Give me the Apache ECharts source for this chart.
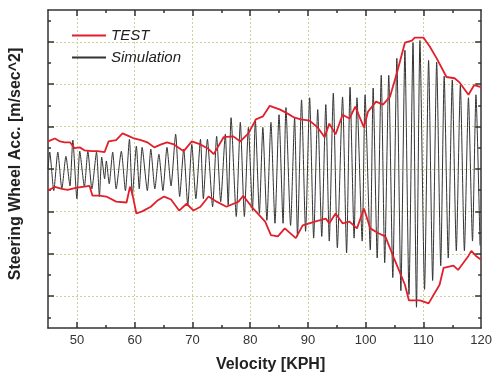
<!DOCTYPE html>
<html>
<head>
<meta charset="utf-8">
<script src="https://cdn.jsdelivr.net/npm/echarts@6/dist/echarts.min.js"></script>
<style>
  html, body { margin: 0; padding: 0; background: #fff; }
  #chart { width: 495px; height: 378px; }
</style>
</head>
<body>
<div id="chart"></div>
<script>
// velocity ticks
const xMajor = [50, 60, 70, 80, 90, 100, 110];
const xLabels = [50, 60, 70, 80, 90, 100, 110, 120];
const xMinor = [55, 65, 75, 85, 95, 105, 115];
// acceleration ticks (no labels on the original)
const yMajor = [-3, -2, -1, 0, 1, 2, 3];
const yMinor = [-3.5, -2.5, -1.5, -0.5, 0.5, 1.5, 2.5, 3.5];

// TEST envelope, upper side
const testUpperV = [45.0, 46.2, 47.1, 47.9, 48.8, 49.6, 50.5, 51.3, 52.6, 53.6, 54.8, 55.5, 56.8, 57.9, 59.1, 59.9,
  61.1, 62.2, 63.4, 64.6, 65.6, 66.8, 68.5, 69.9, 71.4, 72.8, 73.7, 75.4, 77.1, 78.3, 79.7, 81.0, 82.2, 83.4, 85.2,
  86.2, 87.7, 88.8, 90.3, 91.7, 92.9, 93.7, 94.8, 96.0, 97.2, 98.2, 99.7, 100.4, 101.8, 103.0, 104.2, 105.4, 106.8,
  108.0, 108.5, 110.0, 111.1, 112.3, 114.0, 115.4, 116.2, 117.8, 118.8, 120.0];
const testUpperA = [0.65, 0.72, 0.65, 0.63, 0.63, 0.49, 0.51, 0.44, 0.42, 0.42, 0.40, 0.65, 0.68, 0.84, 0.77, 0.72,
  0.68, 0.63, 0.51, 0.58, 0.63, 0.58, 0.42, 0.65, 0.58, 0.47, 0.35, 0.75, 0.77, 0.65, 0.84, 1.17, 1.24, 1.49, 1.40,
  1.33, 1.21, 1.17, 1.14, 0.98, 0.75, 1.07, 0.82, 1.28, 1.19, 1.47, 0.98, 1.35, 1.59, 1.52, 1.70, 2.26, 2.98,
  3.03, 3.10, 3.10, 2.89, 2.61, 2.17, 2.14, 2.05, 1.75, 1.98, 1.93];

// TEST envelope, lower side
const testLowerV = [45.0, 46.2, 47.4, 48.4, 50.0, 51.0, 52.2, 52.7, 53.9, 55.1, 56.8, 58.6, 59.2, 59.6, 60.3, 61.3,
  62.8, 63.9, 65.1, 66.3, 67.7, 69.0, 70.2, 71.4, 72.8, 74.2, 75.9, 78.0, 78.8, 80.5, 82.6, 83.6, 84.8, 86.0, 87.9,
  89.1, 91.2, 93.1, 93.7, 94.8, 96.0, 97.2, 98.5, 99.7, 100.8, 102.3, 103.4, 104.9, 106.8, 107.5, 109.4, 110.9,
  112.8, 113.5, 115.2, 116.0, 117.8, 118.3, 119.1, 120.0];
const testLowerA = [-0.51, -0.42, -0.47, -0.49, -0.44, -0.42, -0.40, -0.63, -0.63, -0.65, -0.77, -0.79, -0.42, -0.58, -1.05, -1.00,
  -0.89, -0.75, -0.65, -0.72, -0.98, -0.82, -0.98, -0.89, -0.65, -0.77, -0.89, -0.77, -0.63, -0.93, -1.24, -1.56, -1.59, -1.40, -1.63,
  -1.33, -1.24, -1.17, -1.28, -1.05, -1.28, -1.24, -1.40, -0.93, -1.40, -1.52, -1.59, -2.10, -2.73, -3.10, -3.10, -3.17,
  -2.73, -2.33, -2.28, -2.38, -2.05, -1.93, -2.05, -2.14];

// Simulation: peaks and troughs of the oscillation
const simV = [45.0, 45.3, 46.0, 46.7, 47.4, 48.1, 48.8, 49.3, 50.0, 50.5, 51.3, 51.9, 52.6, 53.4, 53.9, 54.3, 54.8,
  55.1, 55.6, 56.2, 56.8, 57.7, 58.4, 59.1, 59.6, 60.3, 60.8, 61.3, 62.2, 62.8, 63.5, 64.2, 64.9, 65.6, 66.3, 67.1,
  67.8, 68.5, 69.2, 69.9, 70.6, 71.4, 71.9, 72.6, 73.5, 74.2, 74.9, 75.7, 76.2, 76.7, 77.6, 78.3, 79.0, 79.7, 80.4,
  80.9, 81.6, 82.2, 82.9, 83.6, 84.3, 85.0, 85.7, 86.2, 87.0, 87.7, 88.2, 88.9, 89.6, 90.3, 91.0, 91.7, 92.4, 93.1,
  93.7, 94.4, 95.1, 96.0, 96.7, 97.3, 98.0, 98.5, 99.4, 99.9, 100.8, 101.3, 102.0, 102.7, 103.3, 104.0, 104.7, 105.4,
  106.1, 106.8, 107.5, 108.2, 108.8, 109.4, 110.2, 110.9, 111.6, 112.3, 113.0, 113.6, 114.3, 115.0, 115.7, 116.4,
  117.1, 117.8, 118.5, 119.1, 119.8];
const simA = [0.0, 0.40, -0.51, 0.40, -0.47, 0.30, -0.40, 0.68, -0.70, 0.42, -0.42, 0.42, -0.47, 0.40, -0.65, 0.28, -0.23,
  0.19, -0.35, 0.40, -0.47, 0.42, -0.51, 0.70, -0.63, 0.54, -0.47, 0.51, -0.51, 0.47, -0.47, 0.35, -0.51, 0.51, -0.40, 0.82,
  -0.65, 0.47, -0.86, 0.58, -0.70, 0.70, -0.70, 0.70, -0.89, 0.77, -0.77, 0.82, -0.86, 1.21, -1.12, 1.10, -1.12, 0.98, -0.98,
  1.17, -1.05, 0.98, -1.21, 1.10, -1.28, 1.28, -1.28, 1.45, -1.33, 1.21, -1.59, 1.63, -1.47, 1.68, -1.63, 1.40, -1.59, 1.52,
  -1.70, 1.79, -1.86, 1.70, -1.98, 1.93, -1.63, 1.68, -1.70, 1.75, -1.91, 1.91, -2.10, 2.21, -2.21, 2.21, -2.56, 2.61,
  -2.87, 2.80, -2.96, 2.98, -3.26, 3.03, -2.84, 2.56, -2.63, 2.52, -2.28, 2.19, -2.10, 2.10, -1.93, 1.98,
  -1.93, 1.68, -1.70, 1.75, -1.80];

const pairs = (xs, ys) => xs.map((x, i) => [x, ys[i]]);

const frame = { show: true, onZero: false, lineStyle: { color: '#333', width: 1.5 } };
const noLine = { show: false, onZero: false };
const gridLine = { show: true, lineStyle: { color: '#cfcf9a', type: [2, 2], width: 1 } };

function xAx(pos, ticks, len, extra) {
  return Object.assign({
    type: 'value', min: 45, max: 120, position: pos,
    axisLine: len > 4 ? frame : noLine,
    axisTick: { show: true, inside: true, length: len, customValues: ticks, lineStyle: { color: '#333', width: 1.5 } },
    axisLabel: { show: false },
    splitLine: { show: false }
  }, extra || {});
}
function yAx(pos, ticks, len, extra) {
  return Object.assign({
    type: 'value', min: -3.75, max: 3.75, position: pos,
    axisLine: len > 4 ? frame : noLine,
    axisTick: { show: true, inside: true, length: len, customValues: ticks, lineStyle: { color: '#333', width: 1.5 } },
    axisLabel: { show: false },
    splitLine: { show: false }
  }, extra || {});
}

const chart = echarts.init(document.getElementById('chart'), null, { renderer: 'canvas' });
chart.setOption({
  animation: false,
  backgroundColor: '#fff',
  grid: { left: 48, top: 10, width: 435, height: 322, containLabel: false },
  legend: {
    data: ['TEST', 'Simulation'],
    orient: 'vertical', left: 66, top: 23,
    itemWidth: 34, itemHeight: 14, itemGap: 7,
    itemStyle: { opacity: 0 },
    textStyle: { fontFamily: 'Liberation Sans, Arial', fontStyle: 'italic', fontSize: 15, color: '#222', lineHeight: 14 }
  },
  xAxis: [
    xAx('bottom', xMajor, 6, {
      axisLabel: { show: true, customValues: xLabels, margin: 6, color: '#333', fontSize: 13, fontFamily: 'Liberation Sans, Arial' },
      splitLine: gridLine,
      name: 'Velocity [KPH]', nameLocation: 'middle', nameGap: 29,
      nameTextStyle: { fontFamily: 'Liberation Sans, Arial', fontWeight: 'bold', fontSize: 16, color: '#222', padding: [0, 0, 0, 12] }
    }),
    xAx('bottom', xMinor, 3),
    xAx('top', xMajor, 6),
    xAx('top', xMinor, 3)
  ],
  yAxis: [
    yAx('left', yMajor, 6, {
      splitLine: gridLine,
      name: 'Steering Wheel Acc. [m/sec^2]', nameLocation: 'middle', nameGap: 24,
      nameTextStyle: { fontFamily: 'Liberation Sans, Arial', fontWeight: 'bold', fontSize: 16, color: '#222', padding: [0, 0, 0, 10] }
    }),
    yAx('left', yMinor, 3),
    yAx('right', yMajor, 6),
    yAx('right', yMinor, 3)
  ],
  series: [
    {
      name: 'Simulation', type: 'line', symbol: 'none', smooth: 0.2,
      data: pairs(simV, simA),
      lineStyle: { color: '#333', width: 1 }, itemStyle: { color: '#333' }
    },
    {
      name: 'TEST', type: 'line', symbol: 'none',
      data: pairs(testUpperV, testUpperA),
      lineStyle: { color: '#e0202a', width: 1.8 }, itemStyle: { color: '#e0202a' }
    },
    {
      name: 'TEST', type: 'line', symbol: 'none',
      data: pairs(testLowerV, testLowerA),
      lineStyle: { color: '#e0202a', width: 1.8 }, itemStyle: { color: '#e0202a' }
    }
  ]
});
</script>
</body>
</html>
